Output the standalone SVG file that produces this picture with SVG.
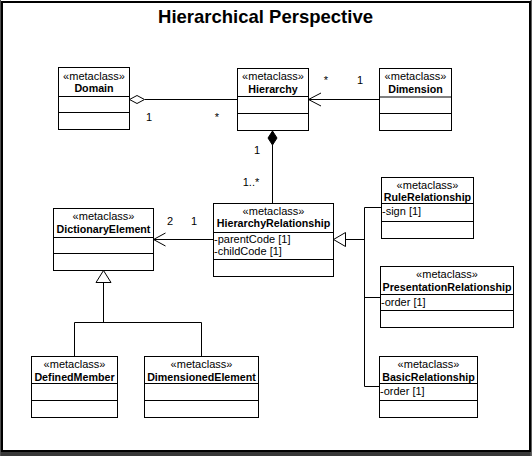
<svg xmlns="http://www.w3.org/2000/svg" width="532" height="456" viewBox="0 0 532 456">
<defs>
<style>
.box{fill:#fff;stroke:#000;stroke-width:1}
.ln{fill:none;stroke:#000;stroke-width:1}
.st{font-family:"Liberation Sans",Arial,sans-serif;font-size:11px;text-anchor:middle;fill:#000}
.nm{font-family:"Liberation Sans",Arial,sans-serif;font-size:10.7px;font-weight:bold;text-anchor:middle;fill:#000}
.at{font-family:"Liberation Sans",Arial,sans-serif;font-size:11px;fill:#000}
.mu{font-family:"Liberation Sans",Arial,sans-serif;font-size:11px;text-anchor:middle;fill:#000}
.ti{font-family:"Liberation Sans",Arial,sans-serif;font-size:18.5px;font-weight:bold;text-anchor:middle;fill:#000}
</style>
</defs>
<rect x="0" y="0" width="532" height="456" fill="#fff"/>
<rect x="0" y="452" width="532" height="4" fill="#383838"/>
<rect x="0" y="0" width="1" height="456" fill="#505050"/>
<rect x="530.5" y="0" width="1.5" height="456" fill="#606060"/>
<rect x="2" y="2" width="528" height="449" fill="#fff" stroke="#000" stroke-width="2"/>
<text class="ti" x="265.5" y="23">Hierarchical Perspective</text>

<g id="connectors">
<!-- Domain - Hierarchy aggregation -->
<line class="ln" x1="145" y1="99.5" x2="237" y2="99.5"/>
<polygon class="box" points="129.5,99.5 137,95.5 144.5,99.5 137,103.5"/>
<text class="mu" x="149" y="121">1</text>
<text class="mu" x="217" y="121">*</text>
<!-- Dimension -> Hierarchy -->
<line class="ln" x1="308.5" y1="99.5" x2="379" y2="99.5"/>
<polyline class="ln" points="321,93 308.5,99.5 321,106"/>
<text class="mu" x="326" y="84">*</text>
<text class="mu" x="360" y="84">1</text>
<!-- Hierarchy composition HierarchyRelationship -->
<line class="ln" x1="272.5" y1="145" x2="272.5" y2="203"/>
<polygon points="272.5,131 277,138 272.5,145 268,138" fill="#000" stroke="#000" stroke-width="1"/>
<text class="mu" x="257" y="154">1</text>
<text class="mu" x="251" y="186">1..*</text>
<!-- HierarchyRelationship -> DictionaryElement -->
<line class="ln" x1="153.5" y1="239.5" x2="213" y2="239.5"/>
<polyline class="ln" points="165.5,233 153.5,239.5 165.5,246"/>
<text class="mu" x="170" y="225">2</text>
<text class="mu" x="194" y="225">1</text>
<!-- generalization to HierarchyRelationship -->
<polygon class="box" points="333.5,239.5 345.5,232.5 345.5,246.5"/>
<line class="ln" x1="345.5" y1="239.5" x2="364.5" y2="239.5"/>
<polyline class="ln" points="381,207.5 364.5,207.5 364.5,386.5 379,386.5"/>
<line class="ln" x1="364.5" y1="297.5" x2="380" y2="297.5"/>
<!-- generalization to DictionaryElement -->
<polygon class="box" points="103.5,270.5 111,282.5 96,282.5"/>
<line class="ln" x1="103.5" y1="282.5" x2="103.5" y2="322.5"/>
<polyline class="ln" points="74.5,356 74.5,322.5 201.5,322.5 201.5,356"/>
</g>

<g id="Domain">
<rect class="box" x="58.5" y="67.5" width="71" height="62"/>
<line class="ln" x1="58.5" y1="96.5" x2="129.5" y2="96.5"/>
<line class="ln" x1="58.5" y1="112.5" x2="129.5" y2="112.5"/>
<text class="st" x="94" y="79.5">«metaclass»</text>
<text class="nm" x="94" y="92">Domain</text>
</g>

<g id="Hierarchy">
<rect class="box" x="237.5" y="68.5" width="71" height="62"/>
<line class="ln" x1="237.5" y1="96.5" x2="308.5" y2="96.5"/>
<line class="ln" x1="237.5" y1="113.5" x2="308.5" y2="113.5"/>
<text class="st" x="273" y="80">«metaclass»</text>
<text class="nm" x="273" y="92.5">Hierarchy</text>
</g>

<g id="Dimension">
<rect class="box" x="379.5" y="68.5" width="72" height="62"/>
<line class="ln" x1="379.5" y1="97" x2="451.5" y2="97"/>
<line class="ln" x1="379.5" y1="113.5" x2="451.5" y2="113.5"/>
<text class="st" x="415.5" y="80">«metaclass»</text>
<text class="nm" x="415.5" y="92.5">Dimension</text>
</g>

<g id="HierarchyRelationship">
<rect class="box" x="213.5" y="203.5" width="120" height="73"/>
<line class="ln" x1="213.5" y1="232.5" x2="333.5" y2="232.5"/>
<line class="ln" x1="213.5" y1="259.5" x2="333.5" y2="259.5"/>
<text class="st" x="273.5" y="214.5">«metaclass»</text>
<text class="nm" x="273.5" y="226.5">HierarchyRelationship</text>
<text class="at" x="214" y="243">-parentCode [1]</text>
<text class="at" x="214" y="255">-childCode [1]</text>
</g>

<g id="DictionaryElement">
<rect class="box" x="53.5" y="208.5" width="100" height="62"/>
<line class="ln" x1="53.5" y1="237.5" x2="153.5" y2="237.5"/>
<line class="ln" x1="53.5" y1="253.5" x2="153.5" y2="253.5"/>
<text class="st" x="103.5" y="220">«metaclass»</text>
<text class="nm" x="103.5" y="232.5">DictionaryElement</text>
</g>

<g id="RuleRelationship">
<rect class="box" x="381.5" y="177.5" width="92" height="61"/>
<line class="ln" x1="381.5" y1="203.5" x2="473.5" y2="203.5"/>
<line class="ln" x1="381.5" y1="221.5" x2="473.5" y2="221.5"/>
<text class="st" x="427.5" y="189">«metaclass»</text>
<text class="nm" x="427.5" y="201">RuleRelationship</text>
<text class="at" x="382" y="215">-sign [1]</text>
</g>

<g id="PresentationRelationship">
<rect class="box" x="380.5" y="266.5" width="133" height="61"/>
<line class="ln" x1="380.5" y1="294.5" x2="513.5" y2="294.5"/>
<line class="ln" x1="380.5" y1="310.5" x2="513.5" y2="310.5"/>
<text class="st" x="447" y="278">«metaclass»</text>
<text class="nm" x="447" y="290.5">PresentationRelationship</text>
<text class="at" x="381" y="305.5">-order [1]</text>
</g>

<g id="BasicRelationship">
<rect class="box" x="379.5" y="356.5" width="98" height="61"/>
<line class="ln" x1="379.5" y1="383.5" x2="477.5" y2="383.5"/>
<line class="ln" x1="379.5" y1="400.5" x2="477.5" y2="400.5"/>
<text class="st" x="428.5" y="368">«metaclass»</text>
<text class="nm" x="428.5" y="380.5">BasicRelationship</text>
<text class="at" x="380" y="394.5">-order [1]</text>
</g>

<g id="DefinedMember">
<rect class="box" x="31.5" y="356.5" width="86" height="61"/>
<line class="ln" x1="31.5" y1="383.5" x2="117.5" y2="383.5"/>
<line class="ln" x1="31.5" y1="400.5" x2="117.5" y2="400.5"/>
<text class="st" x="74.5" y="368">«metaclass»</text>
<text class="nm" x="74.5" y="380.5">DefinedMember</text>
</g>

<g id="DimensionedElement">
<rect class="box" x="144.5" y="356.5" width="114" height="61"/>
<line class="ln" x1="144.5" y1="383.5" x2="258.5" y2="383.5"/>
<line class="ln" x1="144.5" y1="400.5" x2="258.5" y2="400.5"/>
<text class="st" x="201.5" y="368">«metaclass»</text>
<text class="nm" x="201.5" y="380.5">DimensionedElement</text>
</g>
</svg>
